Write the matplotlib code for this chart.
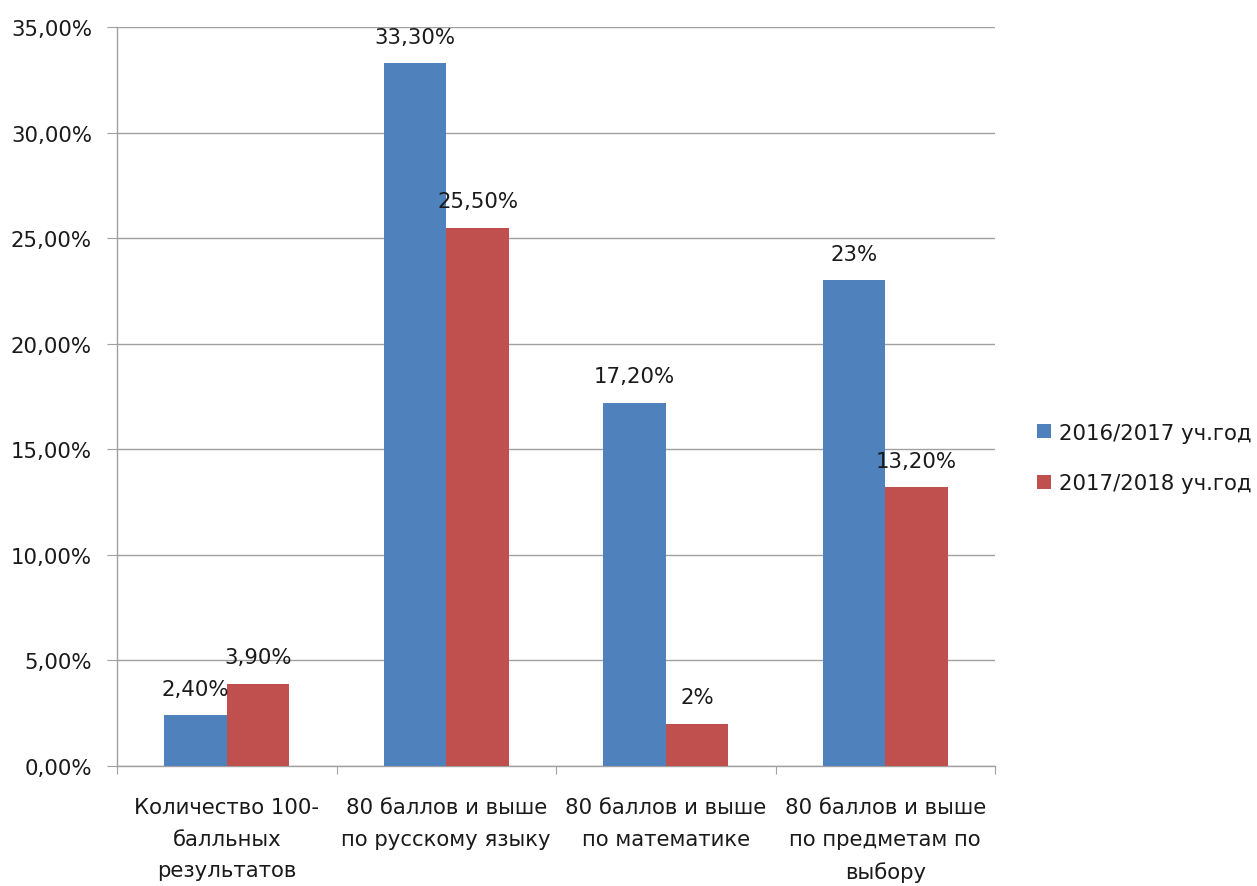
import matplotlib
matplotlib.use("Agg")
import matplotlib.pyplot as plt
import numpy as np

categories = ["Количество 100-\nбалльных\nрезультатов",
              "80 баллов и выше\nпо русскому языку",
              "80 баллов и выше\nпо математике",
              "80 баллов и выше\nпо предметам по\nвыбору"]
series_names = ["2016/2017 уч.год", "2017/2018 уч.год"]
values_2016 = [2.4, 33.3, 17.2, 23.0]
values_2017 = [3.9, 25.5, 2.0, 13.2]
labels_2016 = ["2,40%", "33,30%", "17,20%", "23%"]
labels_2017 = ["3,90%", "25,50%", "2%", "13,20%"]
yticks = [0, 5, 10, 15, 20, 25, 30, 35]
ytick_labels = ["0,00%", "5,00%", "10,00%", "15,00%", "20,00%", "25,00%", "30,00%", "35,00%"]

colors = ["#4F81BD", "#C0504D"]
plt.rcParams['font.family'] = ['DejaVu Sans']
FS = 15.3

fig = plt.figure(figsize=(12.57, 8.87), dpi=100)
ax = fig.add_axes([117/1257, 1-767/887, (995-117)/1257, (767-28)/887])

x = np.arange(len(categories))
w = 0.285
b1 = ax.bar(x - w/2, values_2016, w, color=colors[0], label=series_names[0], zorder=3)
b2 = ax.bar(x + w/2, values_2017, w, color=colors[1], label=series_names[1], zorder=3)

for bars, labs in ((b1, labels_2016), (b2, labels_2017)):
    for r, lab in zip(bars, labs):
        ax.annotate(lab, (r.get_x() + r.get_width()/2, r.get_height()),
                    xytext=(0, 19), textcoords="offset points",
                    ha="center", va="center", fontsize=FS, color="#1a1a1a", zorder=4)

ax.set_xlim(-0.5, len(categories) - 0.5)
ax.set_ylim(0, 35)
ax.set_yticks(yticks)
ax.set_yticklabels(ytick_labels, fontsize=FS, color="#1a1a1a")
ax.yaxis.grid(True, color="#A0A0A0", linewidth=1.0, zorder=0)
ax.set_axisbelow(True)

# category boundary ticks
ax.set_xticks(np.arange(len(categories) + 1) - 0.5)
ax.set_xticklabels([])
ax.tick_params(axis='x', length=6, color="#A0A0A0", direction='out')
ax.tick_params(axis='y', length=7, color="#A0A0A0", direction='out', pad=11)
for i, c in enumerate(categories):
    ax.text(i, -0.042, c, transform=ax.get_xaxis_transform(), ha="center", va="top",
            fontsize=FS, color="#1a1a1a", linespacing=1.72)

for s in ("top", "right"):
    ax.spines[s].set_visible(False)
for s in ("left", "bottom"):
    ax.spines[s].set_color("#A0A0A0")
    ax.spines[s].set_linewidth(1.0)

leg = fig.legend(handles=[b1, b2], labels=series_names, loc="center left",
                 bbox_to_anchor=(1037/1257, 1-459/887), frameon=False, fontsize=FS,
                 handlelength=0.65, handleheight=0.65, handletextpad=0.4, labelspacing=1.45,
                 borderpad=0, borderaxespad=0)
for t in leg.get_texts():
    t.set_color("#1a1a1a")

fig.savefig("out.png", dpi=100)
